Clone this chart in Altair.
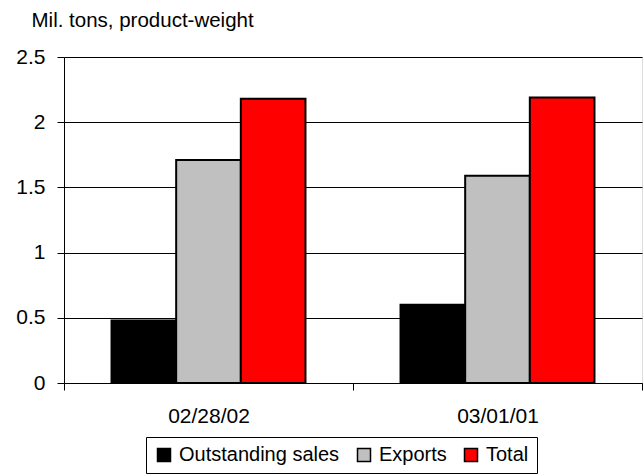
import altair as alt
import pandas as pd

# Category labels and series
dates = ["02/28/02", "03/01/01"]
series = ["Outstanding sales", "Exports", "Total"]
colors = ["#000000", "#C0C0C0", "#FF0000"]

# Values in million tons, product-weight
outstanding = [0.48, 0.60]
exports = [1.71, 1.59]
total = [2.18, 2.19]

y_ticks = [0, 0.5, 1, 1.5, 2, 2.5]

rows = []
for i, d in enumerate(dates):
    for s, v in zip(series, (outstanding[i], exports[i], total[i])):
        rows.append({"date": d, "series": s, "value": v})
df = pd.DataFrame(rows)

FONT = "Liberation Sans"

chart = alt.Chart(df).mark_bar(stroke="black", strokeWidth=2).encode(
    x=alt.X(
        "date:N",
        sort=dates,
        scale=alt.Scale(paddingInner=0, paddingOuter=0),
        axis=alt.Axis(
            title=None,
            labelAngle=0,
            tickBand="extent",
            tickSize=7,
            tickColor="black",
            domainColor="black",
            labelFont=FONT,
            labelFontSize=21,
            labelColor="black",
            labelPadding=15,
            grid=False,
        ),
    ),
    xOffset=alt.XOffset(
        "series:N",
        sort=series,
        scale=alt.Scale(paddingInner=0, paddingOuter=0.735),
    ),
    y=alt.Y(
        "value:Q",
        scale=alt.Scale(domain=[0, 2.5], nice=False),
        axis=alt.Axis(
            values=y_ticks,
            format="~g",
            title="Mil. tons, product-weight",
            titleAngle=0,
            titleAlign="left",
            titleBaseline="alphabetic",
            titleX=-33,
            titleY=-31,
            titleFont=FONT,
            titleFontSize=20.5,
            titleFontWeight="normal",
            titleColor="black",
            grid=True,
            gridColor="black",
            gridWidth=1,
            gridOpacity=1,
            domainColor="black",
            tickColor="black",
            tickSize=7,
            labelFont=FONT,
            labelFontSize=21,
            labelColor="black",
            labelPadding=12,
        ),
    ),
    color=alt.Color(
        "series:N",
        sort=series,
        scale=alt.Scale(domain=series, range=colors),
        legend=alt.Legend(
            title=None,
            orient="none",
            legendX=82,
            legendY=380,
            direction="horizontal",
            strokeColor="black",
            fillColor="white",
            padding=8,
            symbolType="square",
            symbolSize=169,
            symbolStrokeColor="black",
            symbolStrokeWidth=1.5,
            symbolOpacity=1,
            labelFont=FONT,
            labelFontSize=20,
            labelColor="black",
            labelLimit=400,
            labelOffset=5,
            columnPadding=14,
        ),
    ),
).properties(
    width=578,
    height=326,
    autosize=alt.AutoSizeParams(type="none"),
    padding={"left": 64, "top": 57, "right": 2, "bottom": 93},
).configure_view(
    stroke="#808080",
).configure(
    background="white",
)

chart.save("out.html", embed_options={"renderer": "svg", "actions": False})
